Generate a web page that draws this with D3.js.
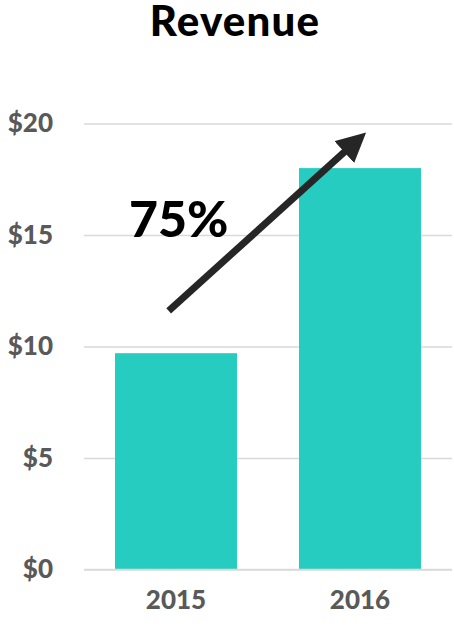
<!DOCTYPE html>
<html>
<head>
<meta charset="utf-8">
<script src="https://cdn.jsdelivr.net/npm/d3@7"></script>
<style>
  html, body { margin: 0; padding: 0; background: #fff; }
  svg { display: block; }
</style>
</head>
<body>
<svg id="chart" width="454" height="626"></svg>
<script>
// Annual revenue, in millions of dollars
const years = ["2015", "2016"];
const revenue = [9.7, 18.0];
const yTicks = [0, 5, 10, 15, 20];
const growthLabel = "75%";
// Growth arrow endpoints: [year, band fraction, value]
const arrowFrom = ["2015", 0.44, 11.6];
const arrowTo = ["2016", 0.55, 19.6];

const svg = d3.select("#chart");
const plot = { left: 84, right: 452, top: 123.5, bottom: 569.5 };
const font = "Lato, 'Open Sans', sans-serif";

const x = d3.scaleBand()
  .domain(years)
  .range([plot.left, plot.right])
  .paddingInner(0.337)
  .paddingOuter(0.1685);

const y = d3.scaleLinear()
  .domain([0, 20])
  .range([plot.bottom, plot.top]);

// Title
svg.append("text")
  .attr("x", 235)
  .attr("y", 36)
  .attr("text-anchor", "middle")
  .attr("font-family", font)
  .attr("font-weight", 900)
  .attr("font-size", 42)
  .attr("letter-spacing", 1.2)
  .attr("fill", "#000")
  .text("Revenue");

// Gridlines and y labels
const yAxis = d3.axisLeft(y)
  .tickValues(yTicks)
  .tickSize(-(plot.right - plot.left))
  .tickPadding(31)
  .tickFormat(d => "$" + d);

const gy = svg.append("g")
  .attr("transform", `translate(${plot.left},0)`)
  .call(yAxis);
gy.select(".domain").remove();
gy.selectAll(".tick line")
  .attr("stroke", "#D9D9D9")
  .attr("stroke-width", 1.5);
gy.selectAll(".tick text")
  .attr("font-family", font)
  .attr("font-weight", 900)
  .attr("font-size", 26)
  .attr("fill", "#595959");

// Bars
svg.append("g")
  .selectAll("rect")
  .data(years.map((yr, i) => ({ yr, v: revenue[i] })))
  .join("rect")
  .attr("x", d => x(d.yr))
  .attr("y", d => y(d.v))
  .attr("width", x.bandwidth())
  .attr("height", d => y(0) - y(d.v))
  .attr("fill", "#27CCC1");

// Redraw baseline over the bars
svg.append("line")
  .attr("x1", plot.left).attr("x2", plot.right)
  .attr("y1", y(0)).attr("y2", y(0))
  .attr("stroke", "#D9D9D9")
  .attr("stroke-width", 1.5);

// X labels
const xAxis = d3.axisBottom(x).tickSize(0).tickPadding(21);
const gx = svg.append("g")
  .attr("transform", `translate(0,${plot.bottom})`)
  .call(xAxis);
gx.select(".domain").remove();
gx.selectAll(".tick text")
  .attr("font-family", font)
  .attr("font-weight", 900)
  .attr("font-size", 26)
  .attr("fill", "#595959");

// Growth arrow
const defs = svg.append("defs");
defs.append("marker")
  .attr("id", "head")
  .attr("viewBox", "0 0 10 10")
  .attr("refX", 3)
  .attr("refY", 5)
  .attr("markerWidth", 4.2)
  .attr("markerHeight", 4.2)
  .attr("markerUnits", "strokeWidth")
  .attr("orient", "auto")
  .append("path")
  .attr("d", "M0,0 L10,5 L0,10 Z")
  .attr("fill", "#262626");

const px = a => x(a[0]) + x.bandwidth() * a[1];
const ax1 = px(arrowFrom), ay1 = y(arrowFrom[2]);
const ax2 = px(arrowTo), ay2 = y(arrowTo[2]);
// Shorten the shaft so the head tip lands on the endpoint
const len = Math.hypot(ax2 - ax1, ay2 - ay1);
const headLen = 7 * 4.2 * 0.7;
const ex = ax2 - (ax2 - ax1) / len * headLen;
const ey = ay2 - (ay2 - ay1) / len * headLen;
svg.append("line")
  .attr("x1", ax1).attr("y1", ay1)
  .attr("x2", ex).attr("y2", ey)
  .attr("stroke", "#262626")
  .attr("stroke-width", 7)
  .attr("marker-end", "url(#head)");

// Growth label
svg.append("text")
  .attr("x", 129)
  .attr("y", 237)
  .attr("font-family", font)
  .attr("font-weight", 900)
  .attr("font-size", 50)
  .attr("fill", "#000")
  .text(growthLabel);
</script>
</body>
</html>
